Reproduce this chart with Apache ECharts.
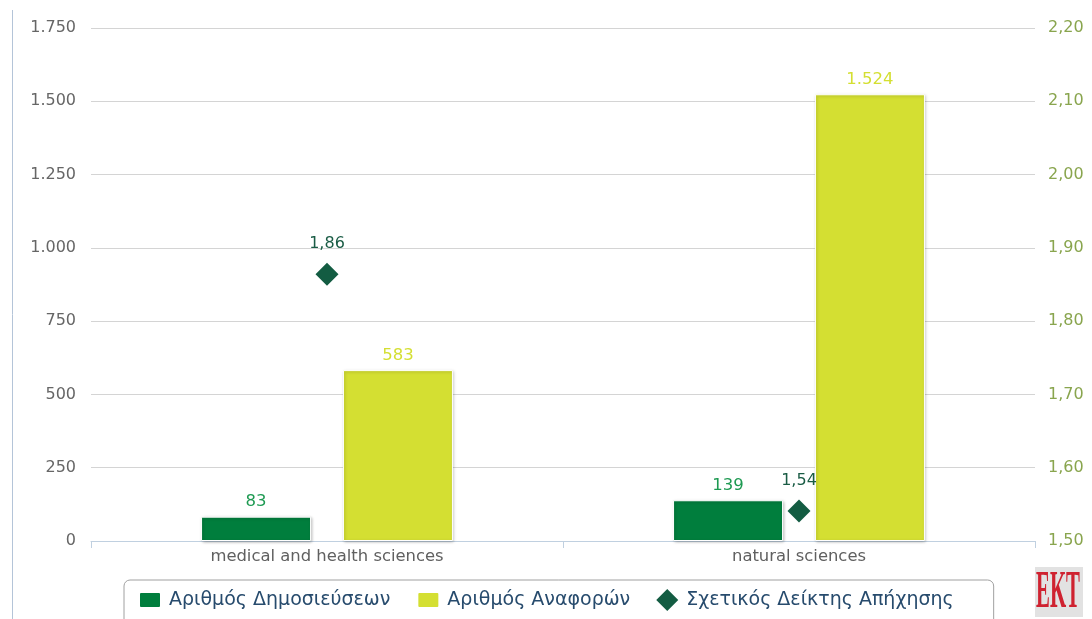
<!DOCTYPE html>
<html>
<head>
<meta charset="utf-8">
<script src="https://cdn.jsdelivr.net/npm/echarts@6/dist/echarts.min.js"></script>
<style>
html,body{margin:0;padding:0;background:#fff;}
#chart{width:1092px;height:619px;}
</style>
</head>
<body>
<div id="chart"></div>
<script>
const categories = ['medical and health sciences', 'natural sciences'];
const publications = [83, 139];
const citations = [583, 1524];
const relIndex = [1.864, 1.541];
const seriesNames = ['Αριθμός Δημοσιεύσεων', 'Αριθμός Αναφορών', 'Σχετικός Δείκτης Απήχησης'];

const fmtThousands = v => String(v).replace(/\B(?=(\d{3})+(?!\d))/g, '.');
const fmtDec = v => Number(v).toFixed(2).replace('.', ',');

const chart = echarts.init(document.getElementById('chart'), null, {renderer: 'canvas'});
const FONT = '"DejaVu Sans", sans-serif';
const barShadow = {borderColor: '#ffffff', borderWidth: 1, shadowColor: 'rgba(0,0,0,0.25)', shadowBlur: 3, shadowOffsetX: 1, shadowOffsetY: 1};
const rectIcon = 'path://M2,0H20Q22,0 22,2V14Q22,16 20,16H2Q0,16 0,14V2Q0,0 2,0Z';
const diamondIcon = 'path://M11,0L22,11L11,22L0,11Z';

chart.setOption({
  animation: false,
  textStyle: {fontFamily: FONT},
  grid: {left: 91, right: 57, top: 28, bottom: 78, containLabel: false},
  legend: {
    left: 124, top: 580,
    padding: [9, 40, 14, 14],
    borderColor: '#a0a0a0', borderWidth: 1, borderRadius: 6,
    itemWidth: 22, itemHeight: 22, itemGap: 26,
    textStyle: {fontSize: 19, color: '#274b6d', fontFamily: FONT, padding: [0, 0, 0, 3]},
    data: [
      {name: seriesNames[0], icon: rectIcon},
      {name: seriesNames[1], icon: rectIcon},
      {name: seriesNames[2], icon: diamondIcon}
    ]
  },
  xAxis: {
    type: 'category',
    data: categories,
    axisLine: {lineStyle: {color: '#c0d0e0', width: 1}},
    axisTick: {show: true, alignWithLabel: false, length: 7, lineStyle: {color: '#c0d0e0'}},
    axisLabel: {color: '#606060', fontSize: 16.4, margin: 8, fontFamily: FONT}
  },
  yAxis: [
    {
      type: 'value', min: 0, max: 1750, interval: 250,
      axisLine: {show: false}, axisTick: {show: false},
      splitLine: {lineStyle: {color: '#d4d4d4', width: 1}},
      axisLabel: {color: '#666666', fontSize: 16, margin: 15, fontFamily: FONT, formatter: fmtThousands}
    },
    {
      type: 'value', min: 1.5, max: 2.2, interval: 0.1,
      axisLine: {show: false}, axisTick: {show: false},
      splitLine: {show: false},
      axisLabel: {color: '#89a54e', fontSize: 16, margin: 13, fontFamily: FONT, formatter: fmtDec}
    }
  ],
  series: [
    {
      name: seriesNames[0], type: 'bar', data: publications, yAxisIndex: 0,
      barWidth: 110, barGap: '29%',
      itemStyle: Object.assign({color: '#007e3d'}, barShadow),
      label: {show: true, position: 'top', distance: 6, color: '#1e9a52', fontSize: 16.5, fontFamily: FONT, formatter: p => fmtThousands(p.value)}
    },
    {
      name: seriesNames[1], type: 'bar', data: citations, yAxisIndex: 0,
      barWidth: 110, barGap: '29%',
      itemStyle: Object.assign({color: '#d4df32'}, barShadow),
      label: {show: true, position: 'top', distance: 6, color: '#d4df32', fontSize: 16.5, fontFamily: FONT, formatter: p => fmtThousands(p.value)}
    },
    {
      name: seriesNames[2], type: 'scatter', data: relIndex, yAxisIndex: 1,
      symbol: 'diamond', symbolSize: [23, 23],
      itemStyle: {color: '#135c42', opacity: 1},
      label: {show: true, position: 'top', distance: 11, color: '#1a5c45', fontSize: 16, fontFamily: FONT, formatter: p => fmtDec(p.value)}
    }
  ],
  graphic: [
    {type: 'line', shape: {x1: 12.5, y1: 10, x2: 12.5, y2: 619}, style: {stroke: '#b4c4d8', lineWidth: 1}, silent: true},
    {type: 'rect', shape: {x: 1035, y: 567, width: 48, height: 50}, style: {fill: '#e2e2e2'}, silent: true},
    {type: 'text', x: 1058, y: 594, scaleX: 0.4, style: {text: 'EKT', font: 'bold 52px "Liberation Serif", serif', fill: '#cf2230', align: 'center', verticalAlign: 'middle'}, silent: true}
  ]
});
</script>
</body>
</html>
